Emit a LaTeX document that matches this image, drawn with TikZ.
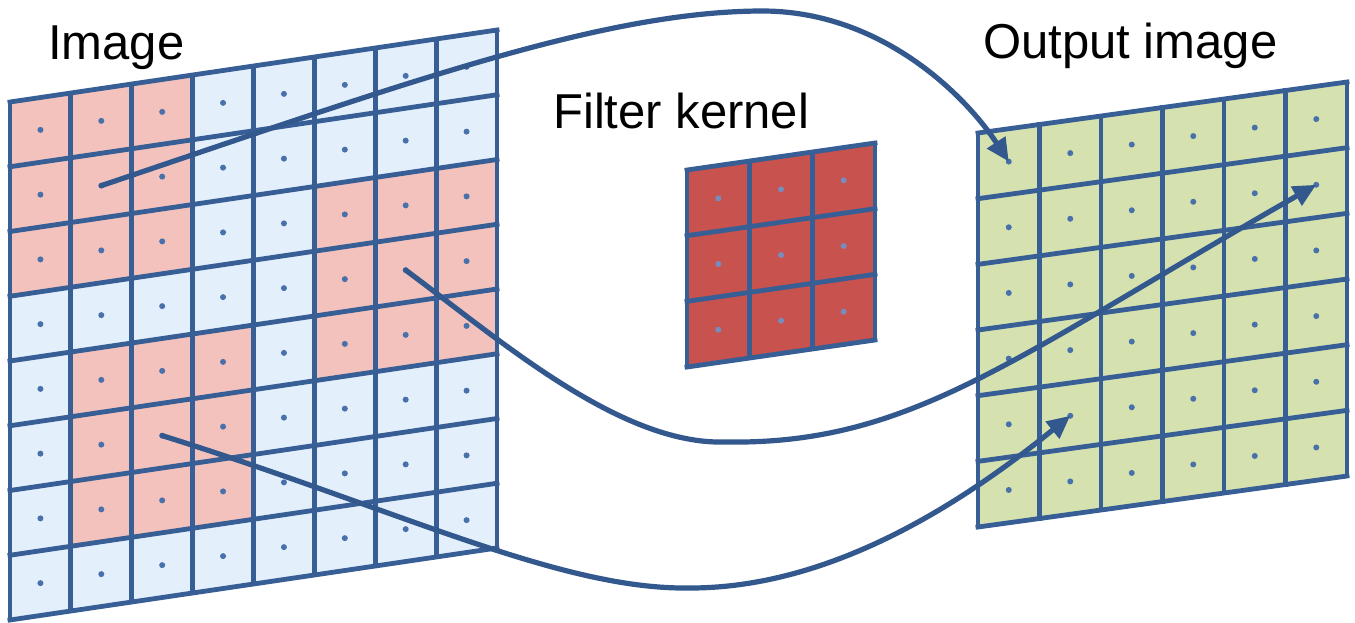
\documentclass[tikz,border=0pt]{standalone}
\usepackage{fontspec}
\setmainfont{Liberation Sans}
\usetikzlibrary{arrows.meta}
\definecolor{gridline}{RGB}{55,95,150}
\definecolor{arrowblue}{RGB}{50,88,142}
\definecolor{lblue}{RGB}{228,239,252}
\definecolor{lpink}{RGB}{243,194,188}
\definecolor{kred}{RGB}{200,82,77}
\definecolor{lgreen}{RGB}{213,226,176}
\definecolor{dotblue}{RGB}{72,112,170}
\definecolor{kdot}{RGB}{120,140,190}
\begin{document}
\begin{tikzpicture}[x=1pt,y=-1pt,
  gridln/.style={draw=gridline, line width=4.8pt, line cap=rect},
  celldot/.style={fill=dotblue},
  conn/.style={draw=arrowblue, line width=5.2pt, line cap=round, -{Triangle[length=23pt,width=21pt]}},
  captxt/.style={font=\fontsize{49}{52}\selectfont, anchor=base west, inner sep=0pt, text=black}]
\useasboundingbox (0,0) rectangle (1355,622);

% ---------- input image grid (8x8) ----------
\foreach \r in {0,...,7}{
  \foreach \c in {0,...,7}{
    \fill[lblue] ({10+\c*60.875},{102-\c*9+\r*64.75}) -- ++(60.875,-9) -- ++(0,64.75) -- ++(-60.875,9) -- cycle;
    \coordinate (L-\r-\c) at ({10+(\c+0.5)*60.875},{102-(\c+0.5)*9+(\r+0.5)*64.75});
  }
}
\foreach \r/\c in {0/0,0/1,0/2,1/0,1/1,1/2,2/0,2/1,2/2,
                   2/5,2/6,2/7,3/5,3/6,3/7,4/5,4/6,4/7,
                   4/1,4/2,4/3,5/1,5/2,5/3,6/1,6/2,6/3}{
  \fill[lpink] ({10+\c*60.875},{102-\c*9+\r*64.75}) -- ++(60.875,-9) -- ++(0,64.75) -- ++(-60.875,9) -- cycle;
}
\foreach \i in {0,...,8}{
  \draw[gridln] ({10+\i*60.875},{102-\i*9}) -- ++(0,518);
  \draw[gridln] (10,{102+\i*64.75}) -- (497,{30+\i*64.75});
}
\foreach \r in {0,...,7}{\foreach \c in {0,...,7}{\fill[celldot] (L-\r-\c) circle (3pt);}}

% ---------- filter kernel (3x3) ----------
\fill[kred] (687,170) -- (875,143) -- (875,340) -- (687,367) -- cycle;
\foreach \r in {0,1,2}{
  \foreach \c in {0,1,2}{
    \coordinate (K-\r-\c) at ({687+(\c+0.5)*62.67},{170-(\c+0.5)*9+(\r+0.5)*65.67});
  }
}
\foreach \i in {0,...,3}{
  \draw[gridln] ({687+\i*62.67},{170-\i*9}) -- ++(0,197);
  \draw[gridln] (687,{170+\i*65.67}) -- (875,{143+\i*65.67});
}
\foreach \r in {0,1,2}{\foreach \c in {0,1,2}{\fill[kdot] (K-\r-\c) circle (3pt);}}

% ---------- output image grid (6x6) ----------
\fill[lgreen] (978,133) -- (1347,82) -- (1347,476) -- (978,527) -- cycle;
\foreach \r in {0,...,5}{
  \foreach \c in {0,...,5}{
    \coordinate (O-\r-\c) at ({978+(\c+0.5)*61.5},{133-(\c+0.5)*8.5+(\r+0.5)*65.67});
  }
}
\foreach \i in {0,...,6}{
  \draw[gridln] ({978+\i*61.5},{133-\i*8.5}) -- ++(0,394);
  \draw[gridln] (978,{133+\i*65.67}) -- (1347,{82+\i*65.67});
}
\foreach \r in {0,...,5}{\foreach \c in {0,...,5}{\fill[celldot] (O-\r-\c) circle (3pt);}}

% ---------- labels ----------
\node[captxt] (tImage) at (48,59) {Image};
\node[captxt] (tKernel) at (553,128) {Filter kernel};
\node[captxt] (tOut) at (983,58) {Output image};

% ---------- connectors ----------
\draw[conn] (L-1-1) .. controls (400,85) and (600,12) .. (760,11)
                    .. controls (880,10) and (965,95) .. (O-0-0);
\draw[conn] (L-3-6) .. controls (500,340) and (620,445) .. (725,442)
                    .. controls (910,445) and (1010,360) .. (O-1-5);
\draw[conn] (L-5-2) .. controls (400,510) and (560,590) .. (690,588)
                    .. controls (830,588) and (960,505) .. (O-4-1);
\end{tikzpicture}
\end{document}
